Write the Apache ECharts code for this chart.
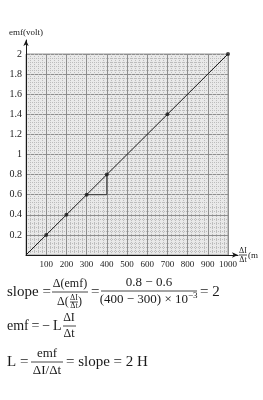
<!DOCTYPE html>
<html>
<head>
<meta charset="utf-8">
<script src="https://cdn.jsdelivr.net/npm/echarts@6/dist/echarts.min.js"></script>
<style>html,body{margin:0;padding:0;background:#fff}#c{width:263px;height:400px}</style>
</head>
<body>
<div id="c"></div>
<script>
const xTickLabels = ['100','200','300','400','500','600','700','800','900','1000'];
const yTickLabels = ['0.2','0.4','0.6','0.8','1','1.2','1.4','1.6','1.8','2'];
const pointsX = [100, 200, 300, 400, 700, 1000];
const pointsY = [0.2, 0.4, 0.6, 0.8, 1.4, 2];
const lineX = [0, 1000];
const lineY = [0, 2];
const triX = [300, 400, 400];
const triY = [0.6, 0.6, 0.8];

const SERIF = 'Liberation Serif';
const INK = '#1a1a1a';
const TS = '\u2009';

function txt(s, x, y, size, align, va) {
  return { type: 'text', x: x, y: y, style: { text: s, fontFamily: SERIF, fontSize: size, fill: INK, align: align || 'left', verticalAlign: va || 'middle' } };
}
function bar(x1, x2, y) {
  return { type: 'line', shape: { x1: x1, y1: y, x2: x2, y2: y }, style: { stroke: INK, lineWidth: 0.8 } };
}

const chart = echarts.init(document.getElementById('c'), null, { renderer: 'canvas' });
const xLabelStyle = { fontFamily: SERIF, fontSize: 9, color: INK };
const yLabelStyle = { fontFamily: SERIF, fontSize: 10, color: INK };

chart.setOption({
  animation: false,
  backgroundColor: '#fff',
  grid: [
    { left: 26, top: 54, right: 35, bottom: 145, show: true, backgroundColor: '#e9e9e9', borderColor: '#999', borderWidth: 1 },
    { left: 26, top: 40, right: 25, bottom: 145 }
  ],
  xAxis: [
    { type: 'value', gridIndex: 0, min: 0, max: 1000, interval: 100,
      axisLine: { show: false }, axisTick: { show: false },
      axisLabel: Object.assign({ margin: 5, formatter: v => v === 0 ? '' : xTickLabels[Math.round(v / 100) - 1] }, xLabelStyle),
      splitLine: { show: true, lineStyle: { color: '#8e8e8e', width: 1 } },
      minorTick: { show: false, splitNumber: 5 },
      minorSplitLine: { show: true, lineStyle: { color: '#bcbcbc', width: 1, type: 'dotted' } } },
    { type: 'value', gridIndex: 1, min: 0, max: 1, show: true,
      axisLine: { show: true, symbol: ['none', 'arrow'], symbolSize: [4, 6], lineStyle: { color: INK, width: 1 } },
      axisTick: { show: false }, axisLabel: { show: false }, splitLine: { show: false } }
  ],
  yAxis: [
    { type: 'value', gridIndex: 0, min: 0, max: 2, interval: 0.2,
      axisLine: { show: false }, axisTick: { show: false },
      axisLabel: Object.assign({ margin: 4, formatter: v => v === 0 ? '' : yTickLabels[Math.round(v / 0.2) - 1] }, yLabelStyle),
      splitLine: { show: true, lineStyle: { color: '#8e8e8e', width: 1 } },
      minorTick: { show: false, splitNumber: 5 },
      minorSplitLine: { show: true, lineStyle: { color: '#bcbcbc', width: 1, type: 'dotted' } } },
    { type: 'value', gridIndex: 1, min: 0, max: 1, show: true,
      name: 'emf(volt)', nameLocation: 'end', nameGap: 3,
      nameTextStyle: { fontFamily: SERIF, fontSize: 9, color: INK, align: 'center', verticalAlign: 'bottom' },
      axisLine: { show: true, symbol: ['none', 'arrow'], symbolSize: [4, 6], lineStyle: { color: INK, width: 1 } },
      axisTick: { show: false }, axisLabel: { show: false }, splitLine: { show: false } }
  ],
  series: [
    { type: 'line', xAxisIndex: 0, yAxisIndex: 0, data: lineX.map((x, i) => [x, lineY[i]]),
      symbol: 'none', lineStyle: { color: INK, width: 1 }, z: 3 },
    { type: 'line', xAxisIndex: 0, yAxisIndex: 0, data: triX.map((x, i) => [x, triY[i]]),
      symbol: 'none', lineStyle: { color: '#333', width: 1 }, z: 3 },
    { type: 'scatter', xAxisIndex: 0, yAxisIndex: 0, data: pointsX.map((x, i) => [x, pointsY[i]]),
      symbolSize: 4, itemStyle: { color: INK }, z: 4 }
  ],
  graphic: [
    // x-axis name
    txt('ΔI', 243, 251, 8, 'center'), bar(239, 247, 255), txt('Δt', 243, 260, 8, 'center'),
    txt('(m', 248, 256, 9, 'left'),
    // formula 1
    txt('slope =', 7, 292, 15),
    txt('Δ(emf)', 70, 284, 12, 'center'), bar(52, 88, 292),
    txt('Δ(', 57, 302, 12), txt('ΔI', 74, 298, 8, 'center'), bar(70, 78, 302), txt('Δt', 74, 306, 8, 'center'), txt(')', 78, 302, 12),
    txt('=', 91, 292, 15),
    txt('0.8 − 0.6', 149, 283, 13, 'center'), bar(101, 197, 291),
    txt('(400 − 300) × 10', 188, 300, 13, 'right'), txt('−3', 188, 296, 9),
    txt('= 2', 200, 292, 15),
    // formula 2
    txt('emf' + TS + '=' + TS + '−' + TS + 'L', 7, 326, 14),
    txt('ΔI', 69, 318, 12, 'center'), bar(63, 76, 326), txt('Δt', 69, 334, 12, 'center'),
    // formula 3
    txt('L =', 7, 362, 15),
    txt('emf', 47, 354, 13, 'center'), bar(31, 63, 362), txt('ΔI/Δt', 47, 371, 13, 'center'),
    txt('= slope = 2 H', 66, 362, 15)
  ]
});
</script>
</body>
</html>
